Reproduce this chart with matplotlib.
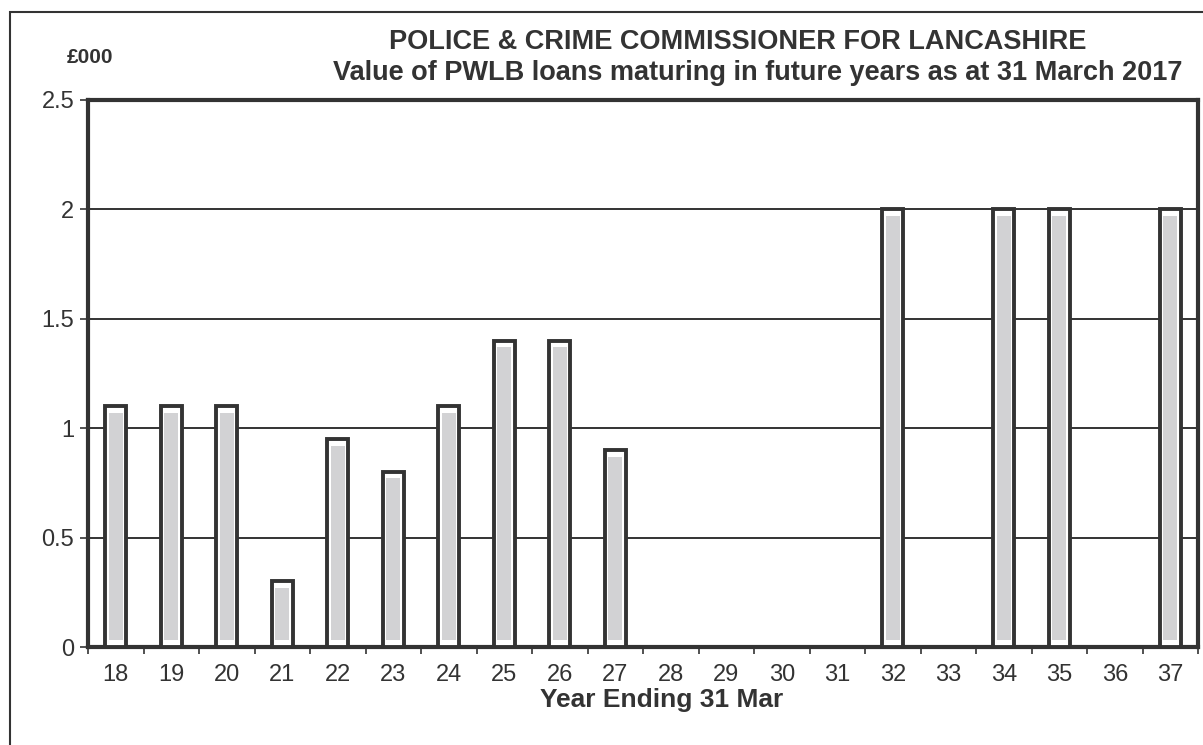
import numpy as np
import matplotlib.pyplot as plt
from matplotlib.patches import Rectangle

plt.rcParams['font.family'] = ['Liberation Sans', 'DejaVu Sans']

# data (£000 of PWLB loans maturing per year)
years = ['18', '19', '20', '21', '22', '23', '24', '25', '26', '27',
         '28', '29', '30', '31', '32', '33', '34', '35', '36', '37']
values = [1.1, 1.1, 1.1, 0.3, 0.95, 0.8, 1.1, 1.4, 1.4, 0.9,
          0, 0, 0, 0, 2.0, 0, 2.0, 2.0, 0, 2.0]
yticks = [0, 0.5, 1, 1.5, 2, 2.5]
ytick_labels = ['0', '0.5', '1', '1.5', '2', '2.5']

ink = '#333333'
fill = '#d2d2d4'

fig = plt.figure(figsize=(12.03, 7.45), dpi=100)
ax = fig.add_axes([0.0732, 0.1315, 0.9228, 0.7345])

x = np.arange(len(years))
vals = np.array(values)
shown = vals > 0

# outer box of each bar: white with a heavy dark outline
ax.bar(x[shown], vals[shown], width=0.38, color='white', edgecolor=ink,
       linewidth=2.8, zorder=3)
# the grey stripe inside the box
ax.bar(x[shown], vals[shown] - 0.06, bottom=0.03, width=0.25, color=fill,
       edgecolor='none', zorder=4)

ax.set_xlim(-0.5, len(years) - 0.5)
ax.set_ylim(0, 2.5)

ax.set_yticks(yticks)
ax.set_yticklabels(ytick_labels, fontsize=17, color=ink)
ax.set_xticks(x)
ax.set_xticklabels(years, fontsize=17, color=ink)
ax.set_xticks(np.arange(-0.5, len(years), 1), minor=True)
ax.tick_params(axis='x', which='major', length=0, pad=12)
ax.tick_params(axis='x', which='minor', length=5, width=1.2, color=ink, direction='out')
ax.tick_params(axis='y', length=6, width=1.2, color=ink, pad=4)

ax.yaxis.grid(True, color=ink, linewidth=1.4)
ax.set_axisbelow(True)
for s in ax.spines.values():
    s.set_color(ink)
    s.set_linewidth(3)

ax.set_xlabel('Year Ending 31 Mar', fontsize=19, fontweight='bold', color=ink)
ax.xaxis.set_label_coords(0.517, -0.097)
ax.xaxis.label.set_va('center')

fig.text(0.613, 0.944, 'POLICE & CRIME COMMISSIONER FOR LANCASHIRE', ha='center',
         va='center', fontsize=19.5, fontweight='bold', color=ink)
fig.text(0.630, 0.902, 'Value of PWLB loans maturing in future years as at 31 March 2017',
         ha='center', va='center', fontsize=19.5, fontweight='bold', color=ink)
fig.text(0.075, 0.923, '£000', ha='center', va='center', fontsize=15,
         fontweight='bold', color=ink)

# frame round the whole chart, as on the page
fig.add_artist(Rectangle((0.008, -0.05), 1.2, 1.034, transform=fig.transFigure,
                         fill=False, edgecolor=ink, linewidth=1.5))

plt.savefig('out.png', dpi=100)
